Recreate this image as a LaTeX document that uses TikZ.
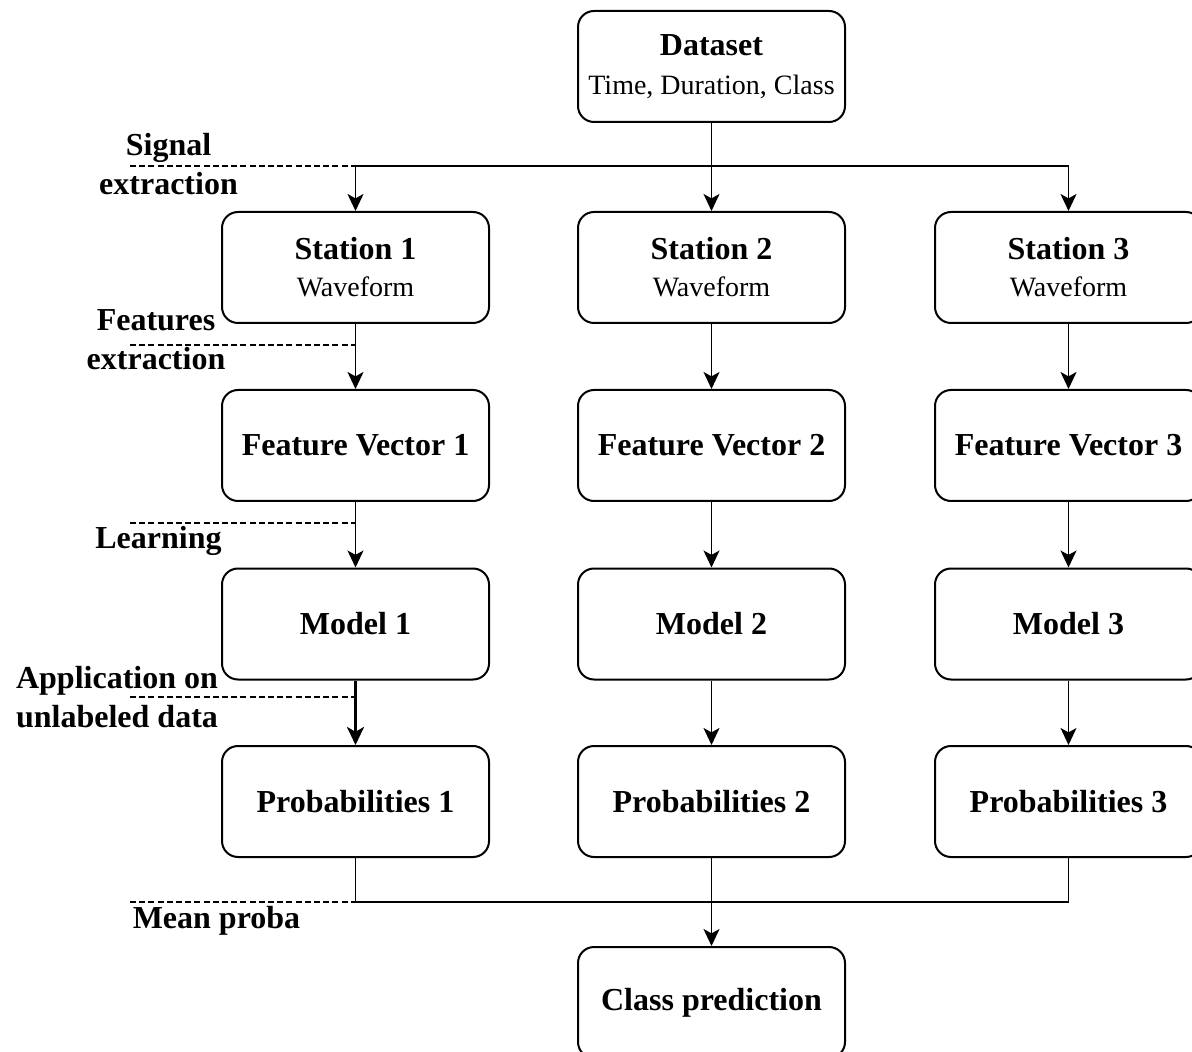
\documentclass[tikz,border=0pt]{standalone}
\usepackage{fontspec}
\setmainfont{Liberation Serif}
\usetikzlibrary{arrows.meta}
\begin{document}
\begin{tikzpicture}[x=0.5pt,y=-0.5pt,
  box/.style={draw=black, line width=1pt, rounded corners=8pt, fill=white,
    minimum width=133.5pt, minimum height=55.5pt, inner sep=0pt, align=center,
    font=\fontsize{16}{18.5}\selectfont\bfseries},
  lbl/.style={align=center, inner sep=0pt, font=\fontsize{16}{19.5}\selectfont\bfseries},
  conn/.style={line width=0.9pt, -{Stealth[length=8.5pt,width=8pt,inset=2.2pt]}},
  plain/.style={line width=0.9pt},
  guide/.style={line width=0.55pt, dash pattern=on 3pt off 1.6pt}
]
\useasboundingbox (0,0) rectangle (1192,1052);
\clip (0,0) rectangle (1192,1052);

% nodes
\node[box] (ds) at (711.5,66.5) {Dataset\\[1pt]{\fontsize{14}{18.5}\selectfont\mdseries Time, Duration, Class}};
\node[box] (s1) at (355.5,267.5) {Station 1\\{\fontsize{14}{18.5}\selectfont\mdseries Waveform}};
\node[box] (s2) at (711.5,267.5) {Station 2\\{\fontsize{14}{18.5}\selectfont\mdseries Waveform}};
\node[box] (s3) at (1068.5,267.5) {Station 3\\{\fontsize{14}{18.5}\selectfont\mdseries Waveform}};
\node[box] (f1) at (355.5,445.5) {Feature Vector 1};
\node[box] (f2) at (711.5,445.5) {Feature Vector 2};
\node[box] (f3) at (1068.5,445.5) {Feature Vector 3};
\node[box] (m1) at (355.5,624) {Model 1};
\node[box] (m2) at (711.5,624) {Model 2};
\node[box] (m3) at (1068.5,624) {Model 3};
\node[box] (p1) at (355.5,801.5) {Probabilities 1};
\node[box] (p2) at (711.5,801.5) {Probabilities 2};
\node[box] (p3) at (1068.5,801.5) {Probabilities 3};
\node[box] (cp) at (711.5,1002.5) {Class prediction};

% coordinates
\coordinate (jl) at (355.5,166);
\coordinate (jr) at (1068.5,166);
\coordinate (bl) at (355.5,902);
\coordinate (br) at (1068.5,902);

% dashed guide lines
\coordinate (d1) at (130,166);
\coordinate (d2a) at (130,345); \coordinate (d2b) at (355.5,345);
\coordinate (d3a) at (130,523); \coordinate (d3b) at (355.5,523);
\coordinate (d4a) at (130,697); \coordinate (d4b) at (355.5,697);
\coordinate (d5) at (130,902);
\draw[guide] (d1) -- (jl);
\draw[guide] (d2a) -- (d2b);
\draw[guide] (d3a) -- (d3b);
\draw[guide] (d4a) -- (d4b);
\draw[guide] (d5) -- (bl);

% connectors
\draw[conn] (ds.south) -- (s2.north);
\draw[plain] (jl) -- (jr);
\draw[conn] (jl) -- (s1.north);
\draw[conn] (jr) -- (s3.north);
\draw[conn] (s1) -- (f1);
\draw[conn] (s2) -- (f2);
\draw[conn] (s3) -- (f3);
\draw[conn] (f1) -- (m1);
\draw[conn] (f2) -- (m2);
\draw[conn] (f3) -- (m3);
\draw[line width=1.5pt, -{Stealth[length=9pt,width=8.5pt,inset=2.4pt]}] (m1) -- (p1);
\draw[conn] (m2) -- (p2);
\draw[conn] (m3) -- (p3);
\draw[plain] (p1.south) -- (bl) -- (br) -- (p3.south);
\draw[conn] (p2.south) -- (cp.north);

% labels
\node[lbl] (l1) at (168.5,164) {Signal\\extraction};
\node[lbl] (l2) at (156,340) {Features\\extraction};
\node[lbl] (l3) at (158.5,541) {Learning};
\node[lbl] (l4) at (117,697.5) {Application on\\unlabeled data};
\node[lbl] (l5) at (216.5,921) {Mean proba};
\end{tikzpicture}
\end{document}
